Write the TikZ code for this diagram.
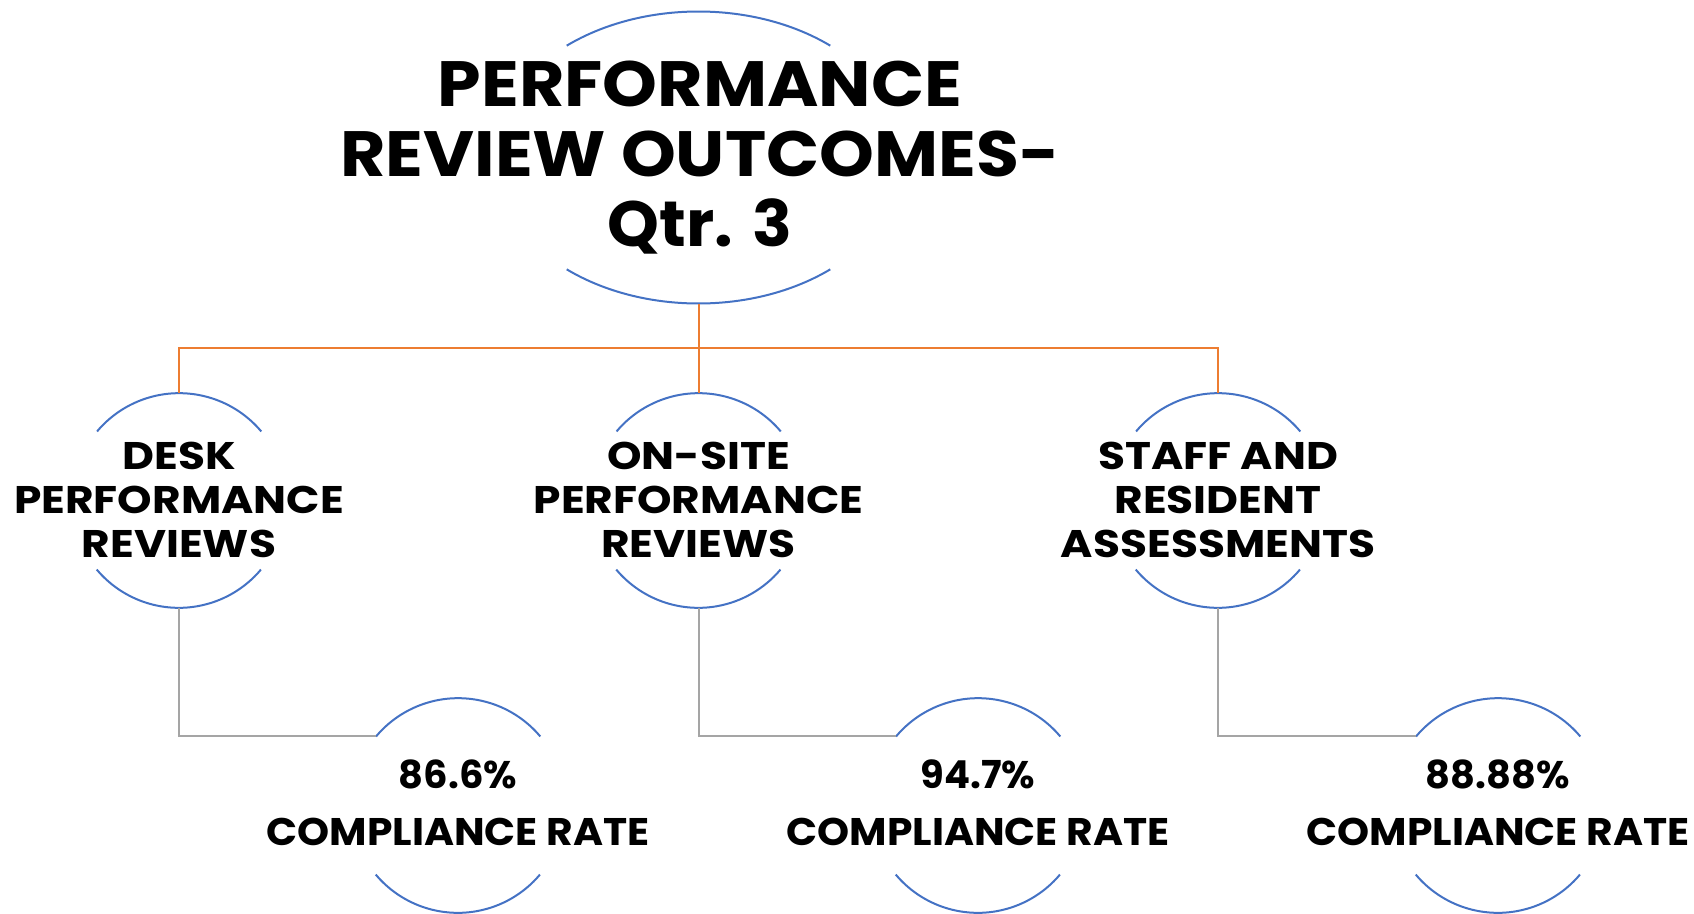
\documentclass[tikz,border=0pt]{standalone}
\usepackage{fontspec}
\setmainfont{Poppins}
\newfontfamily\titlefam{Poppins}[FakeStretch=1.09]
\newfontfamily\qtrfam{Poppins}[FakeStretch=1.03]
\newfontfamily\midfam{Poppins}[FakeStretch=1.14]
\newfontfamily\ratefam{Poppins}[FakeStretch=1.06]
\usetikzlibrary{shapes.geometric}
\definecolor{arcblue}{HTML}{4472C4}
\definecolor{busorange}{HTML}{ED7D31}
\definecolor{linkgray}{HTML}{A5A5A5}
\begin{document}
\begin{tikzpicture}[x=1pt,y=1pt,
  arcline/.style={draw=arcblue,line width=2pt},
  orangeline/.style={draw=busorange,line width=2pt},
  grayline/.style={draw=linkgray,line width=2pt},
  holder/.style={circle,minimum size=214.4pt,inner sep=0pt,draw=none},
  titlefont/.style={anchor=base,inner sep=0pt,font=\titlefam\bfseries\fontsize{64}{70}\selectfont},
  qtrfont/.style={anchor=base,inner sep=0pt,font=\qtrfam\bfseries\fontsize{64}{70}\selectfont},
  boxfont/.style={anchor=base,inner sep=0pt,font=\midfam\bfseries\fontsize{38.5}{44}\selectfont},
  pctfont/.style={anchor=base,inner sep=0pt,font=\bfseries\fontsize{38.5}{44}\selectfont},
  ratefont/.style={anchor=base,inner sep=0pt,font=\ratefam\bfseries\fontsize{38.5}{44}\selectfont}]
\useasboundingbox (0,0) rectangle (1694,-913);
% title holder
\node[ellipse,minimum width=410pt,minimum height=292pt,inner sep=0pt] (t) at (698.5,-157.5) {};
\draw[arcline] ([shift={(50:205 and 146)}]t.center) arc[start angle=50,end angle=130,x radius=205,y radius=146];
\draw[arcline] ([shift={(230:205 and 146)}]t.center) arc[start angle=230,end angle=310,x radius=205,y radius=146];
\node[titlefont] (t1) at (700,-106.7) {PERFORMANCE};
\node[titlefont] (t2) at (700,-176.7) {REVIEW OUTCOMES-};
\node[qtrfont] (t3) at (700,-246.7) {Qtr. 3};
% middle holders
\node[holder] (m1) at (179,-500.5) {};
\node[holder] (m2) at (698.5,-500.5) {};
\node[holder] (m3) at (1218,-500.5) {};
% bottom holders
\node[holder] (b1) at (458,-805.5) {};
\node[holder] (b2) at (978,-805.5) {};
\node[holder] (b3) at (1498,-805.5) {};
\foreach \n in {m1,m2,m3,b1,b2,b3}{
  \draw[arcline] (\n.40) arc[start angle=40,end angle=140,radius=107.2];
  \draw[arcline] (\n.220) arc[start angle=220,end angle=320,radius=107.2];
}
% connectors
\coordinate (bus) at (0,-348.3);
\draw[orangeline] (t.south) -- (m2.north);
\draw[orangeline] (m1.north) |- (m3.north |- bus) -- (m3.north);
\draw[grayline] (m1.south) |- (b1.140);
\draw[grayline] (m2.south) |- (b2.140);
\draw[grayline] (m3.south) |- (b3.140);
% middle texts
\node[boxfont] (m1a) at (179,-469.3) {DESK};
\node[boxfont] (m1b) at (179,-513.3) {PERFORMANCE};
\node[boxfont] (m1c) at (179,-557.7) {REVIEWS};
\node[boxfont] (m2a) at (698.5,-469.3) {ON-SITE};
\node[boxfont] (m2b) at (698.5,-513.3) {PERFORMANCE};
\node[boxfont] (m2c) at (698.5,-557.7) {REVIEWS};
\node[boxfont] (m3a) at (1218,-469.3) {STAFF AND};
\node[boxfont] (m3b) at (1218,-513.3) {RESIDENT};
\node[boxfont] (m3c) at (1218,-557.7) {ASSESSMENTS};
% bottom texts
\node[pctfont] (b1a) at (458,-788.3) {86.6\%};
\node[ratefont] (b1b) at (458,-845.7) {COMPLIANCE RATE};
\node[pctfont] (b2a) at (978,-788.3) {94.7\%};
\node[ratefont] (b2b) at (978,-845.7) {COMPLIANCE RATE};
\node[pctfont] (b3a) at (1498,-788.3) {88.88\%};
\node[ratefont] (b3b) at (1498,-845.7) {COMPLIANCE RATE};
\end{tikzpicture}
\end{document}
